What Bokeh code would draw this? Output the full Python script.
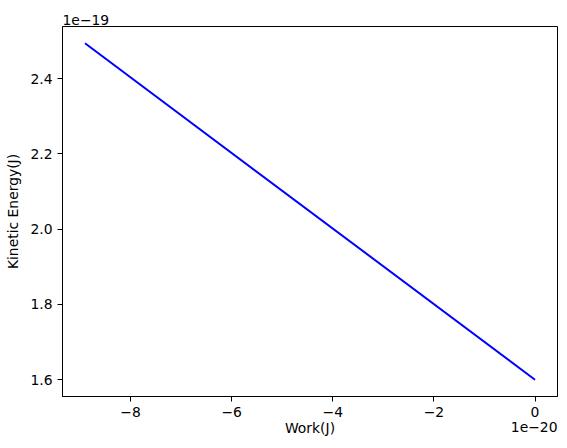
from bokeh.plotting import figure
from bokeh.models import FixedTicker, CustomJSTickFormatter, Range1d, Label, Title
from bokeh.embed import file_html
from bokeh.resources import INLINE

# Data
work = [-8.9e-20, 0.0]
kinetic_energy = [2.494e-19, 1.6e-19]
x_ticks = [-8e-20, -6e-20, -4e-20, -2e-20, 0.0]
y_ticks = [1.6e-19, 1.8e-19, 2.0e-19, 2.2e-19, 2.4e-19]
x_label = "Work(J)"
y_label = "Kinetic Energy(J)"
x_offset_text = "1e\u221220"
y_offset_text = "1e\u221219"

FONT = "DejaVu Sans"
FS = "13.9px"

xmin, xmax = min(work), max(work)
ymin, ymax = min(kinetic_energy), max(kinetic_energy)
xm = (xmax - xmin) * 0.05
ym = (ymax - ymin) * 0.05

p = figure(
    output_backend="svg", toolbar_location=None,
    frame_width=495, frame_height=370,
    min_border_left=62, min_border_right=2, min_border_top=26, min_border_bottom=0,
    x_range=Range1d(xmin - xm, xmax + xm), y_range=Range1d(ymin - ym, ymax + ym),
)
p.line(work, kinetic_energy, line_color="#0000ff", line_width=2)

p.grid.visible = False
p.outline_line_color = "black"
p.outline_line_width = 1
p.background_fill_color = "white"
p.border_fill_color = "white"

for ax in (p.xaxis[0], p.yaxis[0]):
    ax.major_tick_out = 5
    ax.major_tick_in = 0
    ax.major_tick_line_width = 1
    ax.minor_tick_line_color = None
    ax.axis_line_color = "black"
    ax.major_label_text_font = FONT
    ax.major_label_text_font_size = FS
    ax.major_label_text_color = "black"
    ax.axis_label_text_font = FONT
    ax.axis_label_text_font_size = FS
    ax.axis_label_text_font_style = "normal"
    ax.axis_label_text_color = "black"
    ax.major_label_standoff = 5

p.xaxis[0].ticker = FixedTicker(ticks=x_ticks)
p.yaxis[0].ticker = FixedTicker(ticks=y_ticks)
p.xaxis[0].formatter = CustomJSTickFormatter(code="""
const v = tick / 1e-20;
return v.toFixed(0).replace('-', '\u2212');
""")
p.yaxis[0].formatter = CustomJSTickFormatter(code="""
const v = tick / 1e-19;
return v.toFixed(1).replace('-', '\u2212');
""")
p.xaxis[0].axis_label = x_label
p.yaxis[0].axis_label = y_label
p.xaxis[0].axis_label_standoff = 0
p.yaxis[0].axis_label_standoff = 6

p.add_layout(Title(text=y_offset_text, align="left", offset=0, standoff=4,
                   text_font=FONT, text_font_size=FS, text_font_style="normal",
                   text_color="black"), "above")
lab = Label(x=495, y=27, x_units="screen", y_units="screen", text=x_offset_text,
            text_font=FONT, text_font_size=FS, text_align="right",
            text_baseline="top", text_color="black")
p.add_layout(lab, "below")

open("out.html", "w").write(file_html(p, INLINE))
